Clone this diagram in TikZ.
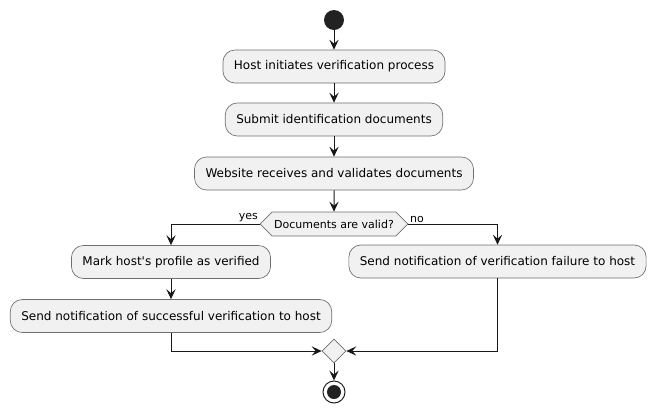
\documentclass[tikz,border=0pt]{standalone}
\usepackage{fontspec}
\setmainfont{DejaVu Sans}
\usetikzlibrary{shapes.geometric,shapes.symbols,arrows.meta}
\definecolor{boxfill}{HTML}{F1F1F1}
\definecolor{boxline}{HTML}{6E6E6E}
\definecolor{ink}{HTML}{181818}
\definecolor{dot}{HTML}{222222}
\begin{document}
\begin{tikzpicture}[x=0.75pt,y=-0.75pt,
  act/.style={draw=boxline,line width=0.5pt,fill=boxfill,rounded corners=9pt,
    minimum height=24.75pt,inner xsep=8.25pt,inner ysep=0pt,
    font=\fontsize{9}{11}\selectfont,text=black},
  hex/.style={draw=boxline,line width=0.5pt,fill=boxfill,signal,signal to=east and west,
    signal pointer angle=90,minimum height=18pt,inner xsep=1.5pt,inner ysep=0pt,
    font=\fontsize{8.25}{10}\selectfont,text=black},
  merge/.style={draw=boxline,line width=0.5pt,fill=boxfill,diamond,minimum size=18pt,inner sep=0pt},
  startc/.style={circle,fill=dot,minimum size=15pt,inner sep=0pt},
  endc/.style={circle,draw=dot,line width=0.75pt,fill=white,minimum size=16.5pt,inner sep=0pt,
    path picture={\fill[dot] (path picture bounding box.center) circle (5.25pt);}},
  flow/.style={draw=ink,line width=0.75pt,-{Stealth[length=7.5pt,width=7pt,inset=3pt]}},
  lbl/.style={font=\fontsize{8.25}{10}\selectfont,text=black,inner sep=1pt}
]
\path[use as bounding box] (0,0) rectangle (654,415);
\node[startc] (start) at (334,20) {};
\node[act] (a1) at (334,66.5) {Host initiates verification process};
\node[act] (a2) at (334,119.5) {Submit identification documents};
\node[act] (a3) at (334,173.5) {Website receives and validates documents};
\node[hex] (d) at (334,224) {Documents are valid?};
\node[act] (y1) at (171,262) {Mark host\textquotesingle s profile as verified};
\node[act] (y2) at (171,316) {Send notification of successful verification to host};
\node[act] (n1) at (497.5,261.5) {Send notification of verification failure to host};
\node[merge] (m) at (334,351) {};
\node[endc] (end) at (334,392) {};
\draw[flow] (start) -- (a1);
\draw[flow] (a1) -- (a2);
\draw[flow] (a2) -- (a3);
\draw[flow] (a3) -- (d);
\draw[flow] (d.west) -| node[lbl,pos=0,anchor=south east] {yes} (y1.north);
\draw[flow] (d.east) -| node[lbl,pos=0,anchor=south west] {no} (n1.north);
\draw[flow] (y1) -- (y2);
\draw[flow] (y2.south) |- (m.west);
\draw[flow] (n1.south) |- (m.east);
\draw[flow] (m) -- (end);
\end{tikzpicture}
\end{document}
